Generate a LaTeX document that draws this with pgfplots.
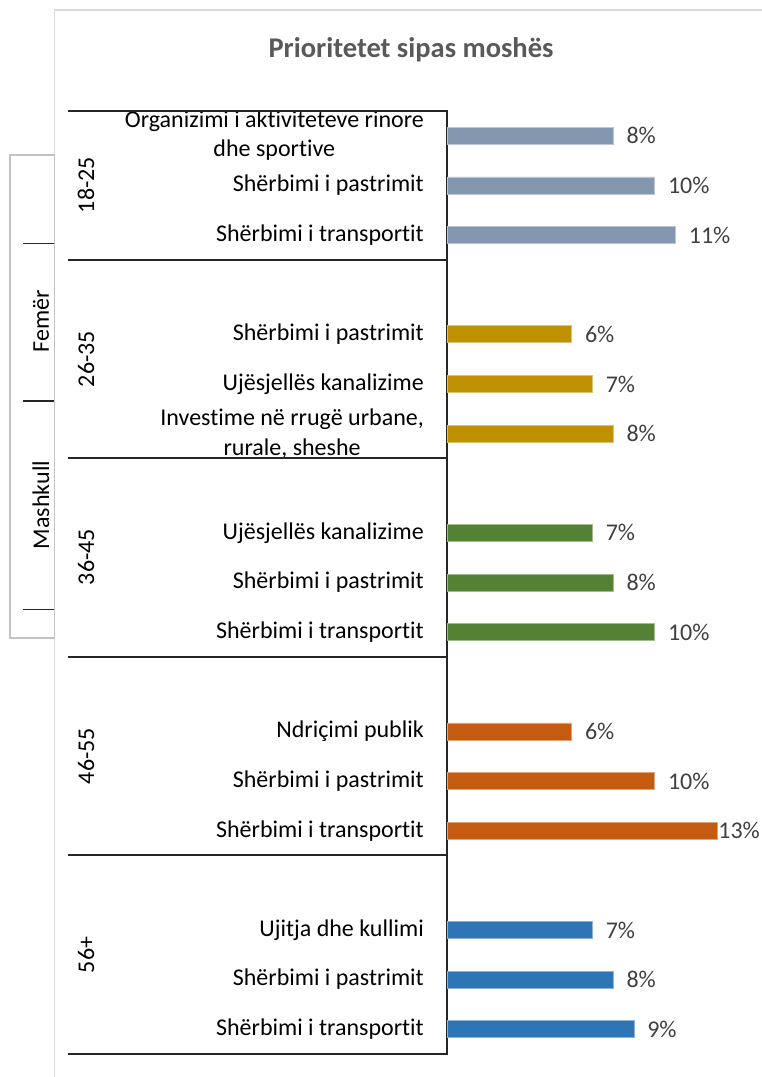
\documentclass[border=0pt]{standalone}
\usepackage{pgfplots}
\pgfplotsset{compat=1.18}
\usepackage{fontspec}
\setmainfont{Carlito}[Ligatures={NoCommon}]
\definecolor{cA}{HTML}{8497B0}
\definecolor{cB}{HTML}{BF9000}
\definecolor{cC}{HTML}{548235}
\definecolor{cD}{HTML}{C55A11}
\definecolor{cE}{HTML}{2E75B6}
\definecolor{lbl}{HTML}{404040}
\definecolor{ttl}{HTML}{595959}
\definecolor{frm}{HTML}{D9D9D9}
\newcommand{\fs}{\fontsize{24}{29.5}\selectfont}
\begin{document}
\begin{tikzpicture}
\path[use as bounding box] (0,0) rectangle (761pt,-1077pt);
% chart frame
\draw[frm, line width=1.3pt] (54.5pt,-1080pt) -- (54.5pt,-10pt) -- (765pt,-10pt);
\node[font=\bfseries\fontsize{28.5}{34}\selectfont, text=ttl] at (411pt,-50pt) {Prioritetet sipas moshës};
\begin{axis}[
  at={(447pt,-1054pt)}, anchor=south west,
  scale only axis, width=311.5pt, height=943pt,
  xmin=0, xmax=15, ymin=-0.5, ymax=18.5,
  y dir=reverse, xbar,
  every axis plot/.append style={bar width=17pt, bar shift=0pt},
  hide x axis,
  axis y line*=left,
  y axis line style={black!85, line width=1.3pt, -},
  ytick={0,1,2,4,5,6,8,9,10,12,13,14,16,17,18},
  yticklabels={{Organizimi i aktiviteteve rinore\\dhe sportive},{Shërbimi i pastrimit},{Shërbimi i transportit},
    {Shërbimi i pastrimit},{Ujësjellës kanalizime},{Investime në rrugë urbane,\\rurale, sheshe},
    {Ujësjellës kanalizime},{Shërbimi i pastrimit},{Shërbimi i transportit},
    {Ndriçimi publik},{Shërbimi i pastrimit},{Shërbimi i transportit},
    {Ujitja dhe kullimi},{Shërbimi i pastrimit},{Shërbimi i transportit}},
  ytick style={draw=none},
  major tick length=0pt,
  yticklabel style={font=\fs, text=black, anchor=east, inner sep=0pt, xshift=-23pt, align=center},
  clip=false,
  /pgf/number format/assume math mode=true,
  nodes near coords={\pgfmathprintnumber[fixed,precision=0]{\pgfplotspointmeta}\%},
  every node near coord/.append style={font=\fs, text=lbl, anchor=west, inner sep=0pt, xshift=13pt},
]
\addplot[fill=cA, draw=cA!55!white, line width=0.8pt] coordinates {(8,0) (10,1) (11,2)};
\addplot[fill=cB, draw=cB!55!white, line width=0.8pt] coordinates {(6,4) (7,5) (8,6)};
\addplot[fill=cC, draw=cC!55!white, line width=0.8pt] coordinates {(7,8) (8,9) (10,10)};
\addplot[fill=cD, draw=cD!55!white, line width=0.8pt] coordinates {(6,12) (10,13)};
\addplot[fill=cD, draw=cD!55!white, line width=0.8pt, every node near coord/.append style={xshift=-12pt}] coordinates {(13,14)};
\addplot[fill=cE, draw=cE!55!white, line width=0.8pt] coordinates {(7,16) (8,17) (9,18)};
\end{axis}
% group separators
\draw[black!85, line width=1.3pt] (68pt,-111pt) -- (447.6pt,-111pt);
\draw[black!85, line width=1.3pt] (68pt,-260pt) -- (447pt,-260pt);
\draw[black!85, line width=1.3pt] (68pt,-458pt) -- (447pt,-458pt);
\draw[black!85, line width=1.3pt] (68pt,-657pt) -- (447pt,-657pt);
\draw[black!85, line width=1.3pt] (68pt,-855pt) -- (447pt,-855pt);
\draw[black!85, line width=1.3pt] (68pt,-1054pt) -- (447.6pt,-1054pt);
% group labels
\node[rotate=90, font=\fs] at (86pt,-185pt) {18-25};
\node[rotate=90, font=\fs] at (86pt,-359pt) {26-35};
\node[rotate=90, font=\fs] at (86pt,-557pt) {36-45};
\node[rotate=90, font=\fs] at (86pt,-756pt) {46-55};
\node[rotate=90, font=\fs] at (86pt,-955pt) {56+};
% slicer panel
\filldraw[fill=white, draw=frm!90!black, line width=1.3pt] (10pt,-155pt) rectangle (54.5pt,-638pt);
\draw[black!85, line width=1.3pt] (23pt,-243.5pt) -- (54pt,-243.5pt);
\draw[black!85, line width=1.3pt] (23pt,-401pt) -- (54pt,-401pt);
\draw[black!85, line width=1.3pt] (23pt,-609.5pt) -- (54pt,-609.5pt);
\node[rotate=90, font=\fs] at (41pt,-321pt) {Femër};
\node[rotate=90, font=\fs] at (41pt,-505pt) {Mashkull};
\end{tikzpicture}
\end{document}
